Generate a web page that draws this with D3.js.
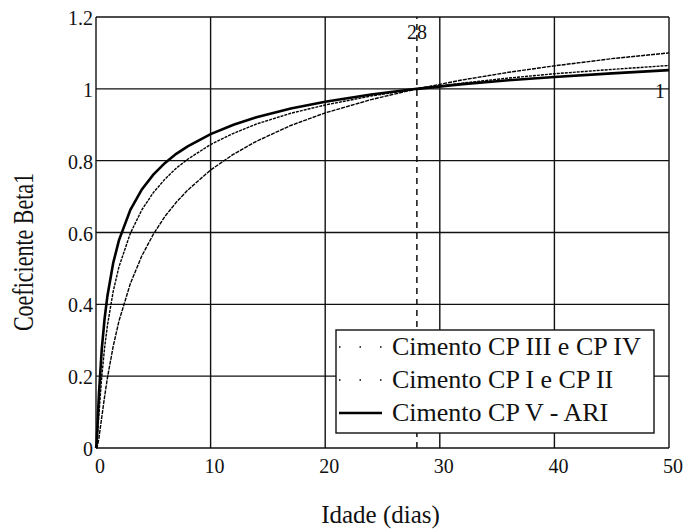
<!DOCTYPE html>
<html>
<head>
<meta charset="utf-8">
<script src="https://cdn.jsdelivr.net/npm/d3@7"></script>
<style>
  body { margin: 0; background: #fff; }
</style>
</head>
<body>
<div id="chart"></div>
<script>
// idade (dias) and beta1 values
var idade = [0, 0.05, 0.1, 0.25, 0.5, 0.75, 1, 1.5, 2, 3, 4, 5, 6, 7, 8, 10, 12, 14, 17, 20, 24, 28, 32, 36, 40, 45, 50];
var betaCP3 = [0, 0.0002, 0.0025, 0.026, 0.085, 0.143, 0.196, 0.283, 0.353, 0.458, 0.535, 0.595, 0.644, 0.684, 0.718, 0.774, 0.818, 0.854, 0.898, 0.933, 0.970, 1, 1.025, 1.046, 1.064, 1.084, 1.100];
var betaCP1 = [0, 0.0035, 0.020, 0.091, 0.198, 0.279, 0.342, 0.436, 0.504, 0.598, 0.663, 0.711, 0.748, 0.779, 0.804, 0.845, 0.876, 0.902, 0.932, 0.955, 0.980, 1, 1.016, 1.030, 1.042, 1.054, 1.065];
var betaCP5 = [0, 0.011, 0.043, 0.147, 0.274, 0.360, 0.424, 0.515, 0.578, 0.663, 0.720, 0.761, 0.793, 0.819, 0.840, 0.874, 0.900, 0.921, 0.945, 0.964, 0.984, 1, 1.013, 1.024, 1.033, 1.043, 1.052];
var xTicks = [0, 10, 20, 30, 40, 50];
var yTicks = [0, 0.2, 0.4, 0.6, 0.8, 1, 1.2];
var legendNames = ["Cimento CP III e CP IV", "Cimento CP I e CP II", "Cimento CP V - ARI"];
var marker = 28;

var width = 685, height = 531;
var margin = {top: 17, right: 16, bottom: 83, left: 96};
var serif = "Liberation Serif";

var svg = d3.select("#chart").append("svg")
    .attr("width", width)
    .attr("height", height);

var x = d3.scaleLinear().domain([0, 50]).range([margin.left, width - margin.right]);
var y = d3.scaleLinear().domain([0, 1.2]).range([height - margin.bottom, margin.top]);

function label(sel) {
  return sel.attr("font-family", serif).attr("fill", "#111");
}

// grid
svg.append("g").selectAll("line").data(xTicks).enter().append("line")
    .attr("x1", d => x(d)).attr("x2", d => x(d))
    .attr("y1", y(0)).attr("y2", y(1.2))
    .attr("stroke", "#111").attr("stroke-width", 1.4);
svg.append("g").selectAll("line").data(yTicks).enter().append("line")
    .attr("x1", x(0)).attr("x2", x(50))
    .attr("y1", d => y(d)).attr("y2", d => y(d))
    .attr("stroke", "#111").attr("stroke-width", 1.4);

// tick labels
svg.append("g").selectAll("text").data(xTicks).enter().append("text")
    .call(label)
    .attr("x", d => x(d) + 4).attr("y", 473)
    .attr("text-anchor", "middle").attr("font-size", 20)
    .text(d => d);
svg.append("g").selectAll("text").data(yTicks).enter().append("text")
    .call(label)
    .attr("x", x(0) - 3).attr("y", d => y(d) + 8)
    .attr("text-anchor", "end").attr("font-size", 20)
    .text(d => d);

// marker at 28 days
svg.append("line")
    .attr("x1", x(marker)).attr("x2", x(marker))
    .attr("y1", y(0)).attr("y2", y(1.2))
    .attr("stroke", "#111").attr("stroke-width", 1.5)
    .attr("stroke-dasharray", "6,5");
svg.append("text").call(label).attr("x", x(marker)).attr("y", 39)
    .attr("text-anchor", "middle").attr("font-size", 20).text(marker);
svg.append("text").call(label).attr("x", x(50) - 4).attr("y", 98)
    .attr("text-anchor", "end").attr("font-size", 20).text(1);

// curves
var line = d3.line().x((d, i) => x(idade[i])).y(d => y(d));
svg.append("path").attr("d", line(betaCP3))
    .attr("fill", "none").attr("stroke", "#000").attr("stroke-width", 1.4)
    .attr("stroke-dasharray", "4,1");
svg.append("path").attr("d", line(betaCP1))
    .attr("fill", "none").attr("stroke", "#000").attr("stroke-width", 1.4)
    .attr("stroke-dasharray", "3,1");
svg.append("path").attr("d", line(betaCP5))
    .attr("fill", "none").attr("stroke", "#000").attr("stroke-width", 2.6);

// legend
var lg = svg.append("g");
lg.append("rect").attr("x", 336).attr("y", 330).attr("width", 318).attr("height", 103)
    .attr("fill", "#fff").attr("stroke", "#111").attr("stroke-width", 1.4);
legendNames.forEach(function(name, i) {
  var cy = 347 + i * 33;
  var l = lg.append("line").attr("x1", 339).attr("x2", 382)
      .attr("y1", cy).attr("y2", cy).attr("stroke", "#000");
  if (i < 2) l.attr("stroke-width", 1.6).attr("stroke-dasharray", "1.5,19");
  else l.attr("stroke-width", 2.6);
  lg.append("text").call(label).attr("x", 392).attr("y", cy + 8)
      .attr("font-size", 26).text(name);
});

// axis titles
svg.append("text").call(label).attr("x", (x(0) + x(50)) / 2 - 2).attr("y", 523)
    .attr("text-anchor", "middle").attr("font-size", 25).text("Idade (dias)");
svg.append("text").call(label)
    .attr("transform", "translate(33,252) rotate(-90) scale(1,1.3)")
    .attr("text-anchor", "middle").attr("font-size", 22).text("Coeficiente Beta1");
</script>
</body>
</html>
